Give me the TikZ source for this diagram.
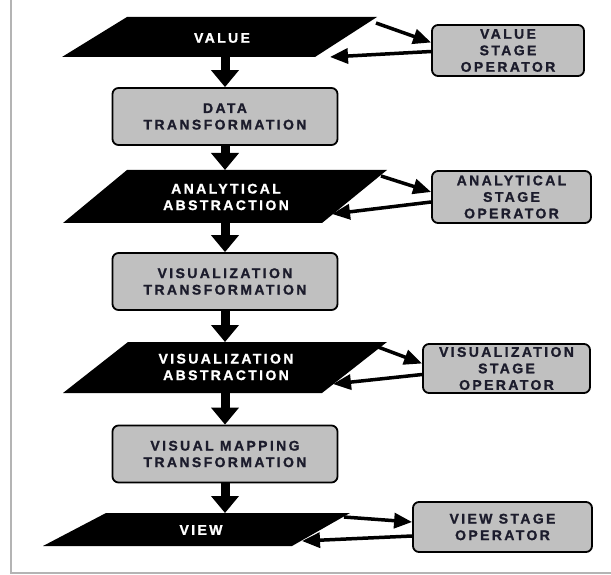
\documentclass[tikz,border=0pt]{standalone}
\usepackage{fontspec}
\newfontfamily\lblfont[LetterSpace=17, BoldFeatures={FakeBold=1.2}]{Liberation Sans}
\usetikzlibrary{arrows.meta,calc}
\definecolor{boxgray}{HTML}{C0C0C0}
\definecolor{framegray}{HTML}{B4B4B4}
\definecolor{inkdark}{HTML}{1C1C2C}
\begin{document}
\begin{tikzpicture}[x=1pt,y=-1pt,
  lbl/.style={font=\lblfont\bfseries\fontsize{14}{16.5}\selectfont, align=center, inner sep=0pt},
  procbox/.style={lbl, draw=black, line width=1.8pt, fill=boxgray, rounded corners=6pt,
                  text=inkdark, minimum width=225pt, minimum height=57pt},
  opbox/.style={lbl, draw=black, line width=1.8pt, fill=boxgray, rounded corners=6pt,
                text=inkdark},
  datalbl/.style={lbl, text=white},
  downarrow/.style={line width=9pt, -{Triangle[width=27pt,length=17pt]}},
  sidearrow/.style={line width=3.5pt, -{Triangle[width=15pt,length=18pt]}}]

\useasboundingbox (0,0) rectangle (611,575);

% page frame
\draw[framegray, line width=1.5pt] (11,0) -- (11,573) -- (611,573);

% data stages (black parallelograms)
\fill (127,17) coordinate (valTL) -- (377,17) coordinate (valTR)
  -- (315,57) coordinate (valBR) -- (62,57) coordinate (valBL) -- cycle;
\node[datalbl] (val) at (222,38) {VALUE};

\fill (127,170) coordinate (anaTL) -- (387,170) coordinate (anaTR)
  -- (322,223) coordinate (anaBR) -- (63,223) coordinate (anaBL) -- cycle;
\node[datalbl] (ana) at (226,197) {ANALYTICAL\\ABSTRACTION};

\fill (128,342) coordinate (visTL) -- (387,342) coordinate (visTR)
  -- (322,393) coordinate (visBR) -- (63,393) coordinate (visBL) -- cycle;
\node[datalbl] (vis) at (226,367) {VISUALIZATION\\ABSTRACTION};

\fill (106,513) coordinate (viwTL) -- (350,513) coordinate (viwTR)
  -- (292,546) coordinate (viwBR) -- (43,546) coordinate (viwBL) -- cycle;
\node[datalbl] (viw) at (201,530) {VIEW};

% transformations
\node[procbox] (dt)  at (225,116.5) {DATA\\TRANSFORMATION};
\node[procbox] (vt)  at (225,281.5) {VISUALIZATION\\TRANSFORMATION};
\node[procbox] (vmt) at (225,454)   {VISUAL MAPPING\\TRANSFORMATION};

% stage operators
\node[opbox, minimum width=152pt, minimum height=51pt] (vso)  at (508,50.5)  {VALUE\\STAGE\\OPERATOR};
\node[opbox, minimum width=159pt, minimum height=52pt] (aso)  at (511.5,197) {ANALYTICAL\\STAGE\\OPERATOR};
\node[opbox, minimum width=167pt, minimum height=49pt] (viso) at (506.5,368.5) {VISUALIZATION\\STAGE\\OPERATOR};
\node[opbox, minimum width=179pt, minimum height=50pt] (vwso) at (502.5,527) {VIEW STAGE\\OPERATOR};

% pipeline arrows
\coordinate (valS) at (225,57);
\coordinate (anaN) at (225,170);
\coordinate (anaS) at (225,223);
\coordinate (visN) at (225,342);
\coordinate (visS) at (225,393);
\coordinate (viwN) at (225,513);
\draw[downarrow] (valS) -- (dt.north);
\draw[downarrow] (dt.south) -- (anaN);
\draw[downarrow] (anaS) -- (vt.north);
\draw[downarrow] (vt.south) -- (visN);
\draw[downarrow] (visS) -- (vmt.north);
\draw[downarrow] (vmt.south) -- (viwN);

% operator loops
\draw[sidearrow] ([shift={(-1,6)}]valTR) -- ([yshift=8pt]vso.west);
\draw[sidearrow] ([yshift=-1pt]vso.west) -- ([shift={(15,0)}]valBR);

\draw[sidearrow] ([shift={(-6,6)}]anaTR) -- ([yshift=5pt]aso.west);
\draw[sidearrow] ([yshift=-5pt]aso.west) -- ([shift={(10,-9)}]anaBR);

\draw[sidearrow] ([shift={(-9,5)}]visTR) -- ([yshift=5pt]viso.west);
\draw[sidearrow] ([yshift=-6pt]viso.west) -- ([shift={(11,-9)}]visBR);

\draw[sidearrow] ([shift={(-6,4)}]viwTR) -- ([yshift=5pt]vwso.west);
\draw[sidearrow] ([yshift=-9pt]vwso.west) -- ([shift={(10,-5)}]viwBR);
\end{tikzpicture}
\end{document}
